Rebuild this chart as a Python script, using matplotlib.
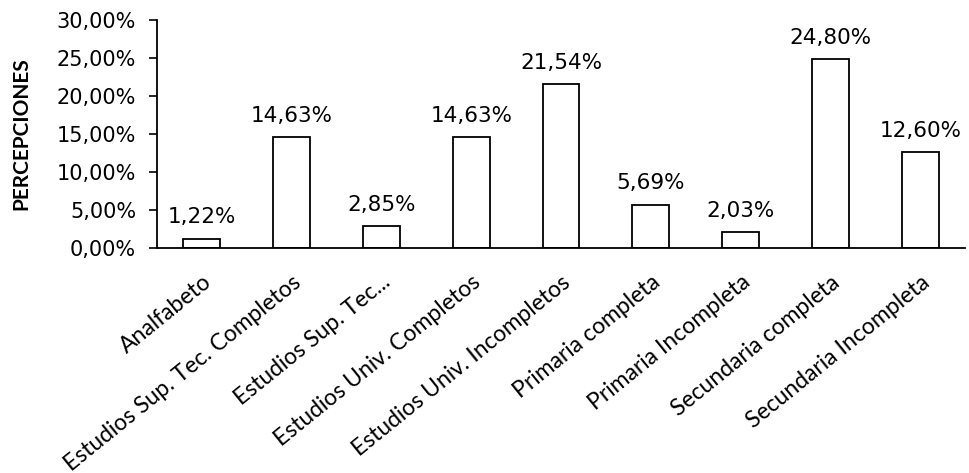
import matplotlib.pyplot as plt
from matplotlib.ticker import FuncFormatter

niveles = ['Analfabeto', 'Estudios Sup. Tec. Completos', 'Estudios Sup. Tec...',
           'Estudios Univ. Completos', 'Estudios Univ. Incompletos',
           'Primaria completa', 'Primaria Incompleta', 'Secundaria completa',
           'Secundaria Incompleta']
porcentajes = [1.22, 14.63, 2.85, 14.63, 21.54, 5.69, 2.03, 24.80, 12.60]
marcas_y = [0, 5, 10, 15, 20, 25, 30]


def pct(v, pos=None):
    return f'{v:.2f}%'.replace('.', ',')


fig = plt.figure(figsize=(9.69, 4.73), dpi=100)
ax = fig.add_axes([0.162, 0.476, 0.834, 0.482])

x = range(len(niveles))
ax.bar(x, porcentajes, width=0.41, color='white', edgecolor='black', linewidth=1.3)

# etiqueta de valor sobre cada barra
for xi, v in zip(x, porcentajes):
    ax.annotate(pct(v), (xi, v), xytext=(0, 8), textcoords='offset points',
                ha='center', va='bottom', fontsize=15.5, family='DejaVu Sans')

ax.set_xlim(-0.5, len(niveles) - 0.5)
ax.set_ylim(0, 30)
ax.set_yticks(marcas_y)
ax.yaxis.set_major_formatter(FuncFormatter(pct))
ax.tick_params(axis='y', length=6, width=1.2, labelsize=15, pad=9)
for t in ax.get_yticklabels():
    t.set_family('DejaVu Sans')

ax.set_xticks(list(x))
ax.set_xticklabels(niveles, rotation=39, ha='right', rotation_mode='anchor',
                   fontsize=16.5, family='Lato')
ax.tick_params(axis='x', length=0, pad=17)

ax.set_ylabel('PERCEPCIONES', fontsize=15, fontweight='bold', family='Lato', labelpad=18)

ax.spines['top'].set_visible(False)
ax.spines['right'].set_visible(False)
ax.spines['left'].set_linewidth(1.3)
ax.spines['bottom'].set_linewidth(1.3)

fig.savefig('out.png', dpi=100)
